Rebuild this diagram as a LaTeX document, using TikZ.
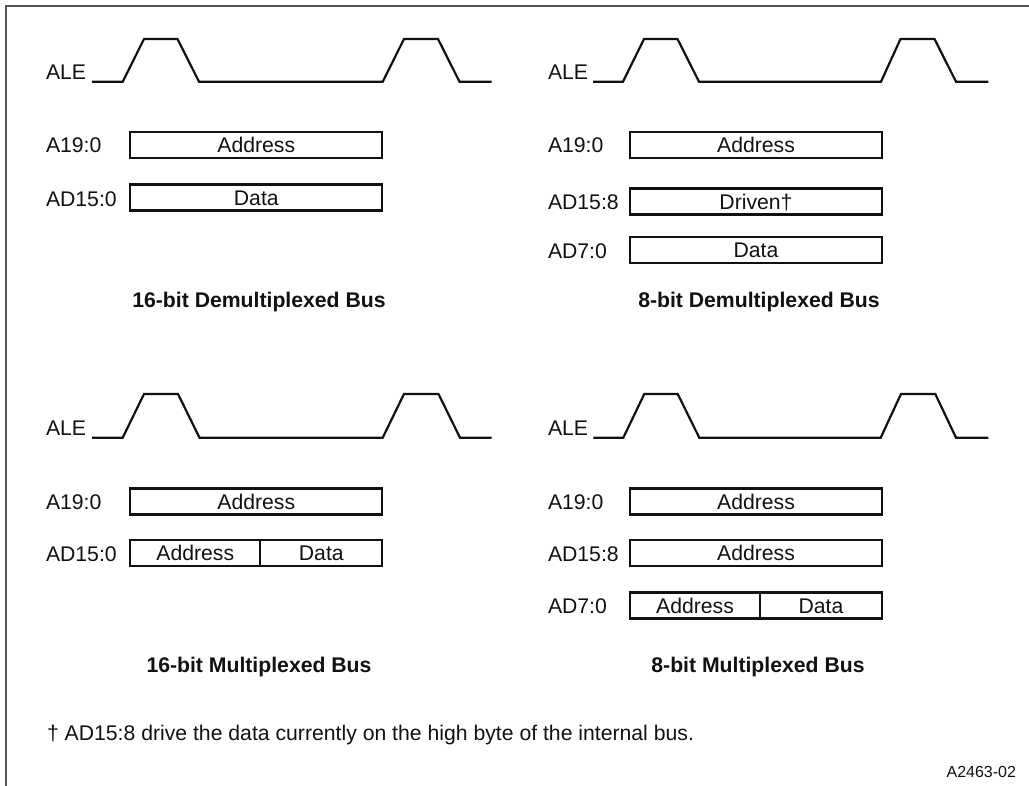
\documentclass[tikz,border=0pt]{standalone}
\usepackage{fontspec}
\setmainfont{Liberation Sans}
\usetikzlibrary{positioning}
\definecolor{framegray}{HTML}{555555}
\definecolor{inkblack}{HTML}{111111}

\begin{document}
\begin{tikzpicture}[
    x=1pt, y=-1pt,
    every node/.style={
        font=\fontsize{21.2}{25}\selectfont,
        text=inkblack,
        inner sep=0pt,
        outer sep=0pt,
        text height=15.2pt,
        text depth=0pt
    },
    siglabel/.style={anchor=west},
    busbox/.style={
        draw=inkblack,
        line width=2.2pt,
        minimum width=252pt,
        minimum height=26pt
    },
    halfbox/.style={busbox, minimum width=130pt},
    datahalf/.style={busbox, minimum width=122pt},
    wave/.style={draw=inkblack, line width=2.2pt, line join=miter},
    caption/.style={font=\fontsize{21.2}{25}\selectfont\bfseries},
    frame/.style={draw=framegray, line width=2pt}
]

\useasboundingbox (0,0) rectangle (1029,786);
\draw[frame] (6,786) -- (6,6) -- (1029,6);

% 16-bit demultiplexed
\node[siglabel] (aleA) at (46,72) {ALE};
\draw[wave] (92,81.7) -- (122.7,81.7) -- (144,39) -- (177.5,39) -- (199,81.7)
    -- (382.7,81.7) -- (404,39) -- (438,39) -- (459.5,81.7) -- (491.7,81.7);
\node[siglabel] (aA) at (46,145) {A19:0};
\node[siglabel] (adA) at (46,198.5) {AD15:0};
\node[busbox] (addrA) at (256.3,145) {Address};
\node[busbox] (dataA) at (256.3,197.5) {Data};
\node[caption] (titleA) at (259,299.5) {16-bit Demultiplexed Bus};

% 8-bit demultiplexed
\node[siglabel] (aleB) at (548,72) {ALE};
\draw[wave] (593,81.7) -- (623,81.7) -- (644,39) -- (677.5,39) -- (699,81.7)
    -- (881,81.7) -- (900.5,39) -- (934.5,39) -- (956,81.7) -- (988.3,81.7);
\node[siglabel] (aB) at (548,145) {A19:0};
\node[siglabel] (adhiB) at (548,202) {AD15:8};
\node[siglabel] (adloB) at (548,250.5) {AD7:0};
\node[busbox] (addrB) at (756,145) {Address};
\node[busbox] (drvB) at (756,201.5) {Driven†};
\node[busbox] (dataB) at (756,250) {Data};
\node[caption] (titleB) at (759,299.5) {8-bit Demultiplexed Bus};

% 16-bit multiplexed
\node[siglabel] (aleC) at (46,428) {ALE};
\draw[wave] (92,437.7) -- (122.7,437.7) -- (144,394) -- (178,394) -- (199.5,437.7)
    -- (382.7,437.7) -- (404,394) -- (438.5,394) -- (460,437.7) -- (491.7,437.7);
\node[siglabel] (aC) at (46,501.5) {A19:0};
\node[siglabel] (adC) at (46,553.5) {AD15:0};
\node[busbox] (addrC) at (256.3,501.5) {Address};
\node[halfbox] (muxC) at (195.3,553) {Address};
\node[datahalf, right=0pt of muxC] (dataC) {Data};
\node[caption] (titleC) at (259,664.7) {16-bit Multiplexed Bus};

% 8-bit multiplexed
\node[siglabel] (aleD) at (548,428) {ALE};
\draw[wave] (593.3,437.7) -- (623.3,437.7) -- (644.3,394) -- (677.7,394) -- (699.3,437.7)
    -- (880.7,437.7) -- (901,394) -- (935.3,394) -- (956,437.7) -- (988.3,437.7);
\node[siglabel] (aD) at (548,501.5) {A19:0};
\node[siglabel] (adhiD) at (548,553.5) {AD15:8};
\node[siglabel] (adloD) at (548,605.5) {AD7:0};
\node[busbox] (addrD) at (756,501.5) {Address};
\node[busbox] (hiD) at (756,553) {Address};
\node[halfbox] (muxD) at (695,605.5) {Address};
\node[datahalf, right=0pt of muxD] (dataD) {Data};
\node[caption] (titleD) at (758,664.7) {8-bit Multiplexed Bus};

\node[anchor=west] (note) at (47,732.7)
    {† AD15:8 drive the data currently on the high byte of the internal bus.};
\node[anchor=east, font=\fontsize{16}{19}\selectfont, text height=11.5pt] (figid)
    at (1016,772) {A2463-02};

\end{tikzpicture}
\end{document}
